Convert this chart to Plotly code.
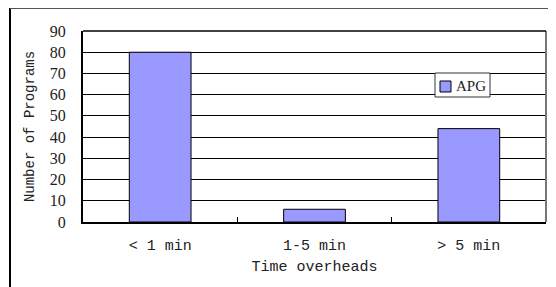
import plotly.graph_objects as go

categories = ["< 1 min", "1-5 min", "> 5 min"]
apg_values = [80, 6, 44]
y_ticks = [0, 10, 20, 30, 40, 50, 60, 70, 80, 90]

OFF = 8  # default body margin of the html page
W, H = 556 - OFF, 287 - OFF
# plot area in page pixels
PL, PR, PT, PB = 83, 546, 31, 222
L, T = PL - OFF, PT - OFF
R = W - (PR - OFF)
B = H - (PB - OFF)
pw, ph = PR - PL, PB - PT

def px(x):
    return (x - PL) / pw

def py(y):
    return (PB - y) / ph

fig = go.Figure()
fig.add_trace(go.Bar(
    x=categories, y=apg_values, name="APG", showlegend=False,
    marker=dict(color="#9999FF", line=dict(color="black", width=1)),
))

mono = "Liberation Mono, Courier New, monospace"
serif = "Liberation Serif, Times New Roman, serif"

shapes = [
    # outer chart frame (cropped at right/bottom)
    dict(type="line", xref="paper", yref="paper", x0=px(10), x1=px(10), y0=py(300), y1=py(8),
         line=dict(color="black", width=2)),
    dict(type="line", xref="paper", yref="paper", x0=px(10), x1=px(560), y0=py(8), y1=py(8),
         line=dict(color="#555", width=2)),
    # plot area right/top border
    dict(type="line", xref="paper", yref="paper", x0=1, x1=1, y0=0, y1=1,
         line=dict(color="#777", width=2)),
    dict(type="line", xref="paper", yref="paper", x0=0, x1=1, y0=1, y1=1,
         line=dict(color="black", width=1.5)),
    # legend box
    dict(type="rect", xref="paper", yref="paper", x0=px(435), x1=px(490), y0=py(97), y1=py(73),
         line=dict(color="#333", width=1), fillcolor="white", layer="above"),
    dict(type="rect", xref="paper", yref="paper", x0=px(440), x1=px(451), y0=py(92), y1=py(81),
         line=dict(color="black", width=1), fillcolor="#9999FF", layer="above"),
]

fig.update_layout(
    width=W, height=H,
    margin=dict(l=L, r=R, t=T, b=B, autoexpand=False),
    paper_bgcolor="white", plot_bgcolor="white",
    bargap=0.6,
    showlegend=False,
    xaxis=dict(
        title=dict(text="Time overheads", font=dict(family=mono, size=15, color="#222"), standoff=6),
        tickfont=dict(family=mono, size=15, color="#222"),
        showline=True, linecolor="black", linewidth=2,
        ticks="inside", tickson="boundaries", ticklen=5, tickcolor="black",
        ticklabelstandoff=8,
        showgrid=False, automargin=False,
    ),
    yaxis=dict(
        title=dict(text="Number of Programs", font=dict(family=mono, size=14, color="#222"), standoff=12),
        tickfont=dict(family=serif, size=16, color="#222"),
        range=[0, 90], tickvals=y_ticks,
        showline=True, linecolor="black", linewidth=2,
        ticks="inside", ticklen=5, tickcolor="black",
        ticklabelstandoff=12,
        showgrid=True, gridcolor="black", gridwidth=1,
        zeroline=False, automargin=False,
    ),
    shapes=shapes,
    annotations=[
        dict(text="APG", xref="paper", yref="paper", x=px(454), y=py(86),
             xanchor="left", yanchor="middle", showarrow=False,
             font=dict(family=serif, size=15, color="#222")),
    ],
)

fig.write_html("out.html")
